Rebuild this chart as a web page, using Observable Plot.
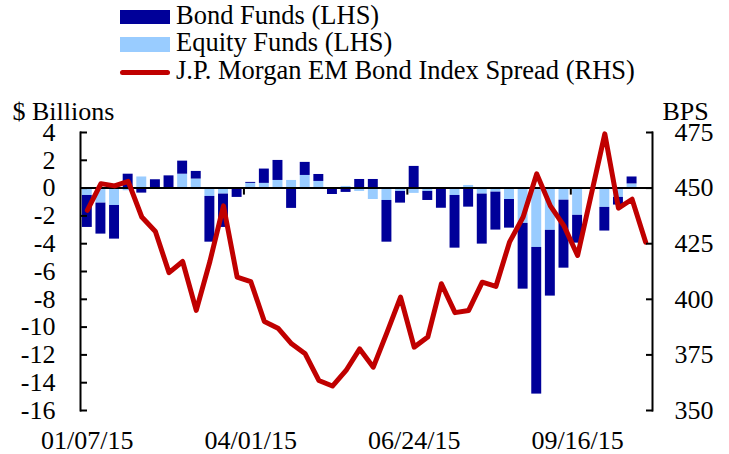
<!DOCTYPE html>
<html>
<head>
<meta charset="utf-8">
<script src="https://cdn.jsdelivr.net/npm/d3@7"></script>
<script src="https://cdn.jsdelivr.net/npm/@observablehq/plot@0.6"></script>
<style>
  html, body { margin: 0; padding: 0; background: #fff; }
  #wrap { width: 729px; height: 454px; position: relative; overflow: hidden; font-family: "Liberation Serif", "Times New Roman", serif; color: #000; }
  #legend { position: relative; width: 729px; height: 90px; }
  .sw { position: absolute; left: 120px; width: 50px; }
  .lt { position: absolute; left: 176px; font-size: 26.5px; line-height: 28px; white-space: nowrap; }
  #chart svg { display: block; }
</style>
</head>
<body>
<div id="wrap">
  <div id="legend"></div>
  <div id="chart"></div>
</div>
<script>
// ---- data ----
const dates = [
  "01/07/15","01/14/15","01/21/15","01/28/15","02/04/15","02/11/15","02/18/15","02/25/15",
  "03/04/15","03/11/15","03/18/15","03/25/15","04/01/15","04/08/15","04/15/15","04/22/15",
  "04/29/15","05/06/15","05/13/15","05/20/15","05/27/15","06/03/15","06/10/15","06/17/15",
  "06/24/15","07/01/15","07/08/15","07/15/15","07/22/15","07/29/15","08/05/15","08/12/15",
  "08/19/15","08/26/15","09/02/15","09/09/15","09/16/15","09/23/15","09/30/15","10/07/15",
  "10/14/15","10/21/15"
];
const equityFunds = [
  -0.53, -1.08, -1.25, -0.19, 0.8, 0, 0, 1.0, 0.65, -0.6,
  -0.43, 0, 0.34, 0.34, 0.55, 0.55, 0.91, 0.48, 0, 0.12,
  -0.24, -0.82, -0.89, -0.24, -0.38, -0.24, -0.05, -0.53, 0.19, -0.43,
  -0.29, -0.82, -2.54, -4.27, -3.04, -0.87, -1.96, 0, -1.39, -0.67,
  0.3, null
];
const bondFunds = [
  -2.3, -2.23, -2.42, 1.0, -0.36, 0.6, 0.88, 0.94, 0.55, -3.29,
  -2.4, -0.67, 0.07, 1.03, 1.44, -1.46, 0.94, 0.5, -0.46, -0.31,
  0.62, 0.62, -3.0, -0.84, 1.56, -0.65, -1.4, -3.79, -1.37, -3.6,
  -2.73, -2.06, -4.73, -10.55, -4.73, -4.89, -2.0, -0.1, -1.7, -0.55,
  0.5, null
];
const embiSpread = [
  440, 452, 451, 453, 437, 430.5, 412, 417, 395, 417,
  442, 410, 408, 390, 387, 380, 375.5, 363.5, 361, 368,
  377.7, 369.5, 385, 401, 378.5, 383, 407, 394, 395, 407.7,
  405.8, 425.7, 437, 456.4, 442, 433, 419.7, 447, 474.4, 441,
  445, 425.7
];
const lhsTicks = [4, 2, 0, -2, -4, -6, -8, -10, -12, -14, -16];
const rhsTicks = [475, 450, 425, 400, 375, 350];
const xLabels = ["01/07/15", "04/01/15", "06/24/15", "09/16/15"];
const xTickBreaks = ["04/01/15", "06/24/15", "09/16/15"];
const seriesNames = ["Equity Funds (LHS)", "Bond Funds (LHS)"];
const lineName = "J.P. Morgan EM Bond Index Spread (RHS)";
const colors = {bond: "#000099", equity: "#99CCFF", line: "#C00000"};

// ---- derived tables ----
const flows = [];
dates.forEach((d, i) => {
  if (equityFunds[i] != null) flows.push({date: d, series: seriesNames[0], value: equityFunds[i]});
  if (bondFunds[i] != null) flows.push({date: d, series: seriesNames[1], value: bondFunds[i]});
});
const spread = dates.map((d, i) => ({date: d, bps: embiSpread[i]}));
// RHS (350..475 bps) mapped onto LHS (-16..4 $bn)
const toLhs = (b) => (b - 450) / 6.25;
const fromLhs = (v) => Math.round(v * 6.25 + 450);

// ---- legend ----
const legend = document.getElementById("legend");
const items = [
  {label: "Bond Funds (LHS)", type: "box", color: colors.bond, top: 1, swTop: 10, swH: 14},
  {label: "Equity Funds (LHS)", type: "box", color: colors.equity, top: 28, swTop: 37, swH: 15},
  {label: lineName, type: "line", color: colors.line, top: 56, swTop: 69.5, swH: 5}
];
for (const it of items) {
  const sw = document.createElement("div");
  sw.className = "sw";
  sw.style.top = it.swTop + "px";
  sw.style.height = it.swH + "px";
  sw.style.background = it.color;
  if (it.type === "line") sw.style.borderRadius = "3px";
  legend.appendChild(sw);
  const t = document.createElement("div");
  t.className = "lt";
  t.style.top = it.top + "px";
  t.textContent = it.label;
  legend.appendChild(t);
}

// ---- chart ----
const W = 729, H = 364, mL = 80, mR = 77, mT = 42, mB = 44;
const step = (W - mL - mR) / dates.length;

const chart = Plot.plot({
  width: W,
  height: H,
  marginLeft: mL,
  marginRight: mR,
  marginTop: mT,
  marginBottom: mB,
  style: {fontFamily: "'Liberation Serif', 'Times New Roman', serif", fontSize: "26px", color: "#000", background: "#fff", overflow: "visible"},
  x: {type: "band", domain: dates, paddingInner: 0.27, paddingOuter: 0.135, round: false, label: null},
  y: {domain: [-16, 4], label: null},
  color: {domain: seriesNames, range: [colors.equity, colors.bond]},
  marks: [
    Plot.barY(flows, Plot.stackY({x: "date", y: "value", fill: "series"})),
    Plot.ruleY([0], {stroke: "#000", strokeWidth: 2}),
    Plot.ruleX(xTickBreaks, {x: (d) => d, y1: 0, y2: 0, insetBottom: -7, dx: -step / 2, stroke: "#000", strokeWidth: 2}),
    Plot.line(spread, {x: "date", y: (d) => toLhs(d.bps), stroke: colors.line, strokeWidth: 5, strokeLinejoin: "round", strokeLinecap: "round"}),
    Plot.frame({anchor: "left", stroke: "#000", strokeWidth: 2}),
    Plot.frame({anchor: "right", stroke: "#000", strokeWidth: 2}),
    Plot.axisY({anchor: "left", ticks: lhsTicks, tickSize: -7, tickPadding: 32, strokeWidth: 2, tickFormat: (d) => String(d), label: null}),
    Plot.axisY({anchor: "right", ticks: rhsTicks.map(toLhs), tickSize: -7, tickPadding: 29, strokeWidth: 2, tickFormat: (d) => String(fromLhs(d)), label: null}),
    Plot.axisX({anchor: "bottom", ticks: xLabels, tickSize: 0, tickPadding: 20, label: null}),
    Plot.text(["$ Billions"], {frameAnchor: "top-left", textAnchor: "start", dx: -68, dy: -31, text: (d) => d}),
    Plot.text(["BPS"], {frameAnchor: "top-right", textAnchor: "start", dx: 10, dy: -31, text: (d) => d})
  ]
});
document.getElementById("chart").appendChild(chart);
</script>
</body>
</html>
